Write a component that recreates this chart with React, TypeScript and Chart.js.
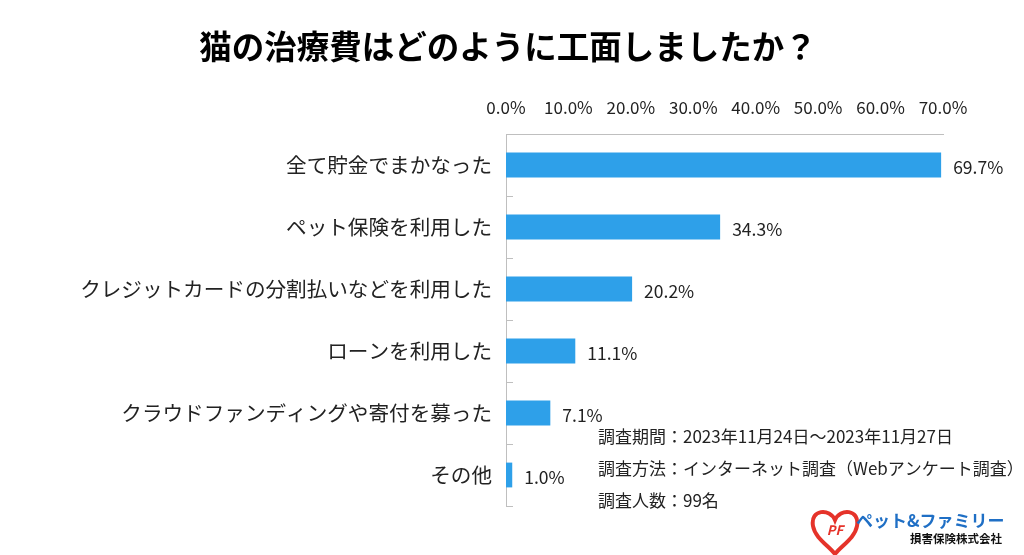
import React, { useEffect, useRef } from "react";
import { Chart, registerables } from "chart.js";

Chart.register(...registerables);

const titleText = "猫の治療費はどのように工面しましたか？";
const categories = [
  "全て貯金でまかなった",
  "ペット保険を利用した",
  "クレジットカードの分割払いなどを利用した",
  "ローンを利用した",
  "クラウドファンディングや寄付を募った",
  "その他",
];
const values = [69.7, 34.3, 20.2, 11.1, 7.1, 1.0];
const axisMin = 0;
const axisMax = 70;
const axisStep = 10;
const notes = [
  "調査期間：2023年11月24日～2023年11月27日",
  "調査方法：インターネット調査（Webアンケート調査）",
  "調査人数：99名",
];
const logoName = "ペット&ファミリー";
const logoSub = "損害保険株式会社";

const JP = '"Noto Sans CJK JP", "Noto Sans", sans-serif';
const BAR = "#2EA0E9";
const AXIS = "#BFBFBF";

const decorPlugin = {
  id: "decor",
  afterDatasetsDraw(chart: any) {
    const ctx = chart.ctx;
    const area = chart.chartArea;
    const y = chart.scales.y;
    ctx.save();
    // inner category ticks
    ctx.strokeStyle = AXIS;
    ctx.lineWidth = 1;
    const n = categories.length;
    for (let i = 0; i < n; i++) {
      const c = y.getPixelForTick(i);
      const next = i < n - 1 ? y.getPixelForTick(i + 1) : null;
      const py = next !== null ? (c + next) / 2 : area.bottom;
      ctx.beginPath();
      ctx.moveTo(area.left, Math.round(py) + 0.5);
      ctx.lineTo(area.left + 7, Math.round(py) + 0.5);
      ctx.stroke();
    }
    // data labels
    const meta = chart.getDatasetMeta(0);
    ctx.fillStyle = "#222";
    ctx.font = `17.5px ${JP}`;
    ctx.textAlign = "left";
    ctx.textBaseline = "middle";
    meta.data.forEach((bar: any, i: number) => {
      ctx.fillText(`${values[i].toFixed(1)}%`, bar.x + 12, bar.y + 2);
    });
    // title
    ctx.fillStyle = "#000";
    ctx.font = `bold 32.5px ${JP}`;
    ctx.textAlign = "center";
    ctx.fillText(titleText, 508, 47);
    // notes
    ctx.fillStyle = "#222";
    ctx.font = `17px ${JP}`;
    ctx.textAlign = "left";
    notes.forEach((t, i) => ctx.fillText(t, 598, 437 + i * 32));
    // logo heart
    const hx = 835, hy = 511;
    ctx.beginPath();
    ctx.moveTo(hx, hy + 9);
    ctx.bezierCurveTo(hx - 5, hy - 3, hx - 25, hy - 2, hx - 22, hy + 15);
    ctx.bezierCurveTo(hx - 20, hy + 27, hx - 6, hy + 35, hx, hy + 43);
    ctx.bezierCurveTo(hx + 6, hy + 35, hx + 20, hy + 27, hx + 22, hy + 15);
    ctx.bezierCurveTo(hx + 25, hy - 2, hx + 5, hy - 3, hx, hy + 9);
    ctx.closePath();
    ctx.fillStyle = "#fff";
    ctx.fill();
    ctx.strokeStyle = "#E5332A";
    ctx.lineWidth = 4;
    ctx.stroke();
    ctx.fillStyle = "#E5332A";
    ctx.font = `bold italic 13px ${JP}`;
    ctx.textAlign = "center";
    ctx.fillText("PF", hx, hy + 19);
    ctx.fillStyle = "#1F6FC5";
    ctx.font = `bold 17px ${JP}`;
    ctx.textAlign = "left";
    ctx.fillText(logoName, 856, 521);
    ctx.fillStyle = "#111";
    ctx.font = `bold 11.5px ${JP}`;
    ctx.textAlign = "right";
    ctx.fillText(logoSub, 1002, 539);
    ctx.restore();
  },
};

export default function App() {
  const ref = useRef<HTMLCanvasElement>(null);
  useEffect(() => {
    if (!ref.current) return;
    const chart = new Chart(ref.current, {
      type: "bar",
      data: {
        labels: categories,
        datasets: [
          {
            data: values,
            backgroundColor: BAR,
            borderWidth: 0,
            barPercentage: 0.4,
            categoryPercentage: 1,
          },
        ],
      },
      options: {
        indexAxis: "y",
        responsive: false,
        animation: false,
        layout: { padding: { left: 0, top: 0, right: 81, bottom: 49 } },
        plugins: { legend: { display: false }, tooltip: { enabled: false } },
        scales: {
          x: {
            position: "top",
            min: axisMin,
            max: axisMax,
            ticks: {
              stepSize: axisStep,
              padding: 16,
              color: "#222",
              font: { size: 17, family: JP },
              callback: (v: any) => `${Number(v).toFixed(1)}%`,
              maxRotation: 0,
            },
            grid: { display: false, drawTicks: false },
            border: { display: true, color: AXIS, width: 1 },
            afterFit: (s: any) => {
              s.height = 134;
            },
          },
          y: {
            ticks: {
              padding: 14,
              color: "#222",
              font: { size: 20.6, family: JP },
            },
            grid: { display: false, drawTicks: false },
            border: { display: true, color: AXIS, width: 1 },
            afterFit: (s: any) => {
              s.width = 506;
            },
          },
        },
      },
      plugins: [decorPlugin],
    });
    return () => chart.destroy();
  }, []);
  return (
    <div style={{ position: "absolute", left: 0, top: 0, width: 1024, height: 555, background: "#fff" }}>
      <canvas ref={ref} width={1024} height={555} style={{ width: 1024, height: 555 }} />
    </div>
  );
}
